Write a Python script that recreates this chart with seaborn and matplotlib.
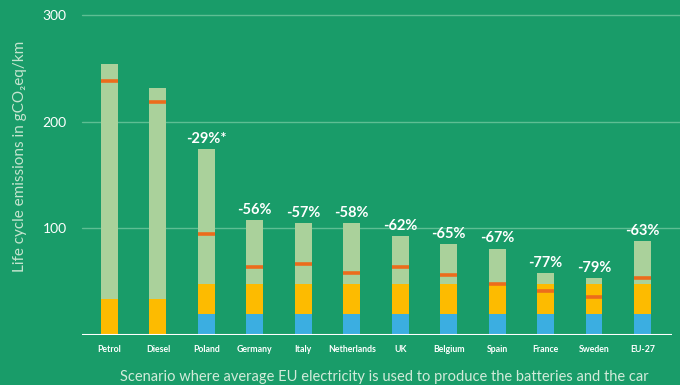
import matplotlib
matplotlib.use("Agg")
import matplotlib.pyplot as plt
import seaborn as sns
import pandas as pd
import numpy as np

categories = ["Petrol", "Diesel", "Poland", "Germany", "Italy", "Netherlands",
              "UK", "Belgium", "Spain", "France", "Sweden", "EU-27"]
total = [254, 232, 174, 108, 105, 105, 93, 85, 81, 58, 53, 88]
yellow_top = [34, 34, 48, 48, 48, 48, 48, 48, 48, 48, 48, 48]
blue_top = [0, 0, 20, 20, 20, 20, 20, 20, 20, 20, 20, 20]
marker = [238, 218, 95, 64, 67, 58, 64, 56, 48, 41, 36, 53]
pct_labels = ["", "", "-29%*", "-56%", "-57%", "-58%", "-62%", "-65%",
              "-67%", "-77%", "-79%", "-63%"]
yticks = [100, 200, 300]

BG = "#199C69"
LIGHT = "#AAD19B"
YELLOW = "#FDBB00"
BLUE = "#3BAEE1"
ORANGE = "#EC6C1C"
GRID = "#5EBE93"

sns.set_theme(style="white")
plt.rcParams["font.family"] = ["Lato", "DejaVu Sans"]

df = pd.DataFrame({"cat": categories, "total": total, "yellow": yellow_top,
                   "blue": blue_top, "marker": marker})

fig = plt.figure(figsize=(6.8, 3.85), dpi=100, facecolor=BG)
ax = fig.add_axes([82 / 680, 50 / 385, (672 - 82) / 680, (335 - 15) / 385])
ax.set_facecolor(BG)

w = 0.35
sns.barplot(data=df, x="cat", y="total", color=LIGHT, width=w, saturation=1, ax=ax)
sns.barplot(data=df, x="cat", y="yellow", color=YELLOW, width=w, saturation=1, ax=ax)
sns.barplot(data=df, x="cat", y="blue", color=BLUE, width=w, saturation=1, ax=ax)
for p in ax.patches:
    p.set_linewidth(0)

xs = np.arange(len(categories))
ax.hlines(df["marker"], xs - w / 2, xs + w / 2, color=ORANGE, lw=2.6, zorder=5)

for i, (t, lab) in enumerate(zip(total, pct_labels)):
    if lab:
        ax.annotate(lab, (i, t), xytext=(0, 4.5), textcoords="offset points",
                    ha="center", va="baseline", color="white", fontsize=10.5,
                    fontweight="bold")

ax.set_ylim(0, 300)
ax.set_xlim(-0.568, 11.61)
for y in yticks:
    ax.axhline(y, color=GRID, lw=1, zorder=0, clip_on=False,
               xmin=0, xmax=(680 - 82) / (672 - 82))
ax.axhline(0, color="white", lw=1.5, zorder=6)

ax.set_yticks(yticks)
ax.set_yticklabels([str(v) for v in yticks], color="white", fontsize=10)
ax.tick_params(axis="y", length=0, pad=11)
ax.tick_params(axis="x", length=0, pad=7)
ax.set_xticks(xs)
ax.set_xticklabels(categories, color="white", fontsize=6.3, fontweight="bold")
ax.set_xlabel("")
ax.set_ylabel("")
for s in ax.spines.values():
    s.set_visible(False)

fig.text(20 / 680, 1 - 156 / 385, "Life cycle emissions in gCO₂eq/km",
         rotation=90, ha="center", va="center", color="#C5E5CF",
         fontsize=11, fontweight="normal")
fig.text(384 / 680, 1 - 377 / 385,
         "Scenario where average EU electricity is used to produce the batteries and the car",
         ha="center", va="center", color="#D2EBDA", fontsize=10.5, fontweight="normal")

fig.savefig("out.png", dpi=100, facecolor=BG)
